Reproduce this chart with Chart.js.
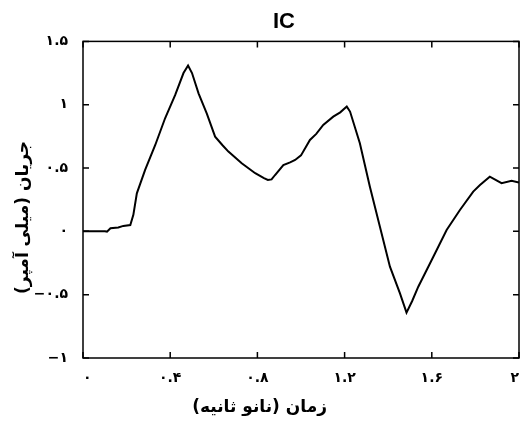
<!DOCTYPE html>
<html>
<head>
<meta charset="utf-8">
<script src="https://cdn.jsdelivr.net/npm/chart.js"></script>
<style>
    * { margin: 0; padding: 0; box-sizing: border-box; }
    body { background: #fff; }
    .wrap { width: 523px; height: 428px; position: relative; }
</style>
</head>
<body>
<div class="wrap"><canvas id="icChart"></canvas></div>
<script>
    // time in ns, current in mA
    const times = [0, 0.05, 0.1, 0.11, 0.126, 0.162, 0.185, 0.217, 0.231, 0.247, 0.285, 0.331, 0.377, 0.423, 0.461, 0.482,
        0.5, 0.53, 0.568, 0.606, 0.64, 0.667, 0.728, 0.79, 0.83, 0.848, 0.865, 0.881, 0.919, 0.95, 0.973,
        1.0, 1.041, 1.07, 1.102, 1.148, 1.18, 1.21, 1.225, 1.27, 1.316, 1.362, 1.408, 1.454, 1.484,
        1.51, 1.538, 1.607, 1.668, 1.729, 1.79, 1.821, 1.866, 1.92, 1.966, 2.0];
    const current = [0, 0, 0, -0.002, 0.025, 0.03, 0.043, 0.05, 0.13, 0.30, 0.485, 0.68, 0.895, 1.077, 1.25, 1.31,
        1.25, 1.09, 0.93, 0.748, 0.68, 0.63, 0.538, 0.459, 0.42, 0.406, 0.41, 0.445, 0.524, 0.545, 0.564,
        0.6, 0.722, 0.77, 0.84, 0.906, 0.94, 0.985, 0.946, 0.696, 0.353, 0.037, -0.279, -0.49, -0.642,
        -0.55, -0.437, -0.2, 0.011, 0.169, 0.314, 0.366, 0.432, 0.38, 0.40, 0.385];
    const xTicks = [0, 0.4, 0.8, 1.2, 1.6, 2];
    const yTicks = [-1, -0.5, 0, 0.5, 1, 1.5];

    const faDigits = '۰۱۲۳۴۵۶۷۸۹';
    function toFa(v) {
        let s = String(Math.round(v * 10) / 10);
        s = s.replace('-', '−');
        return s.replace(/[0-9]/g, d => faDigits[+d]);
    }
    // leading RLM + nbsp pushes the centred rtl text a bit off centre, like the original
    function rtlLabel(txt, pad) {
        return '\u200F' + '\u00A0'.repeat(pad) + txt + '\u200F';
    }

    // frame with inward ticks on all four sides
    const framePlugin = {
        id: 'frame',
        afterDatasetsDraw(chart) {
            const { ctx, chartArea: a, scales } = chart;
            ctx.save();
            ctx.strokeStyle = '#000';
            ctx.lineWidth = 1.5;
            ctx.strokeRect(a.left, a.top, a.right - a.left, a.bottom - a.top);
            const len = 6;
            ctx.beginPath();
            scales.x.ticks.forEach(t => {
                const px = scales.x.getPixelForValue(t.value);
                ctx.moveTo(px, a.bottom); ctx.lineTo(px, a.bottom - len);
                ctx.moveTo(px, a.top); ctx.lineTo(px, a.top + len);
            });
            scales.y.ticks.forEach(t => {
                const py = scales.y.getPixelForValue(t.value);
                ctx.moveTo(a.left, py); ctx.lineTo(a.left + len, py);
                ctx.moveTo(a.right, py); ctx.lineTo(a.right - len, py);
            });
            ctx.stroke();
            ctx.restore();
        }
    };

    const font = 'DejaVu Sans';
    new Chart(document.getElementById('icChart'), {
        type: 'line',
        data: {
            datasets: [{
                data: times.map((t, i) => ({ x: t, y: current[i] })),
                borderColor: '#000',
                borderWidth: 2,
                pointRadius: 0,
                tension: 0,
                fill: false
            }]
        },
        options: {
            responsive: true,
            maintainAspectRatio: false,
            animation: false,
            layout: { padding: { top: 0, right: 4, bottom: 0, left: 0 } },
            plugins: {
                legend: { display: false },
                tooltip: { enabled: false },
                title: {
                    display: true,
                    text: '\u00A0'.repeat(8) + 'IC',
                    color: '#000',
                    font: { family: 'Liberation Sans', size: 22, weight: 'bold' },
                    padding: { top: 9, bottom: 6 }
                }
            },
            scales: {
                x: {
                    type: 'linear',
                    min: 0, max: 2,
                    afterBuildTicks: s => { s.ticks = xTicks.map(v => ({ value: v })); },
                    afterFit: s => { s.height = 70; s.paddingLeft = 0; s.paddingRight = 0; },
                    grid: { display: false },
                    border: { display: false },
                    ticks: {
                        color: '#000',
                        padding: 4,
                        align: 'inner',
                        maxRotation: 0,
                        font: { family: font, size: 14, weight: 'bold' },
                        callback: v => toFa(v)
                    },
                    title: {
                        display: true,
                        text: rtlLabel('زمان (نانو ثانیه)', 14),
                        color: '#000',
                        font: { family: font, size: 17, weight: 'bold' },
                        padding: { top: 0, bottom: 10 }
                    }
                },
                y: {
                    min: -1, max: 1.5,
                    afterBuildTicks: s => { s.ticks = yTicks.map(v => ({ value: v })); },
                    afterFit: s => { s.width = 83; s.paddingTop = 0; s.paddingBottom = 0; },
                    grid: { display: false },
                    border: { display: false },
                    ticks: {
                        color: '#000',
                        padding: 7,
                        font: { family: font, size: 14, weight: 'bold' },
                        callback: v => toFa(v)
                    },
                    title: {
                        display: true,
                        text: rtlLabel('جریان (میلی آمپر)', 6),
                        color: '#000',
                        font: { family: font, size: 17, weight: 'bold' },
                        padding: { top: 13, bottom: 0 }
                    }
                }
            }
        },
        plugins: [framePlugin]
    });
</script>
</body>
</html>
